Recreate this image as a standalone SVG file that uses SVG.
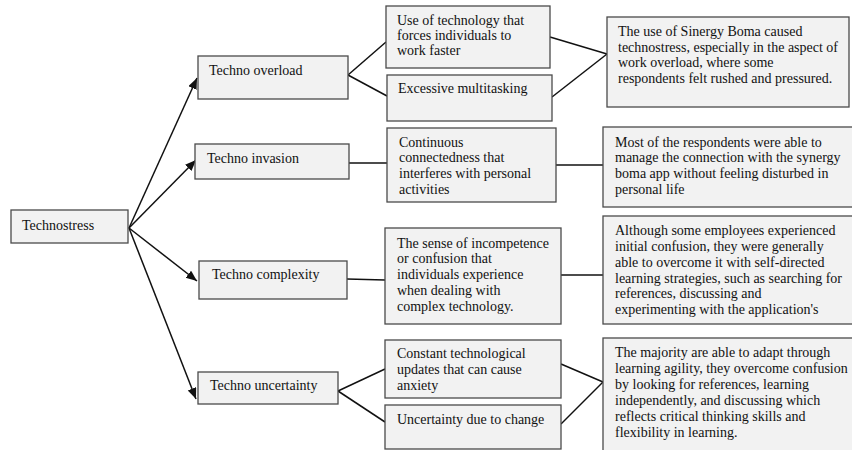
<svg xmlns="http://www.w3.org/2000/svg" width="852" height="450" viewBox="0 0 852 450">
<style>
.box{fill:#f2f2f2;stroke:#4a4a4a;stroke-width:1.3}
.t{font-family:"Liberation Serif","Times New Roman",serif;font-size:14px;fill:#111}
.c{stroke:#111;stroke-width:1.5;fill:none}
</style>
<defs>
<marker id="ah" markerUnits="userSpaceOnUse" markerWidth="12" markerHeight="10" refX="11" refY="4.5" orient="auto">
<path d="M0,0 L11,4.5 L0,9 Z" fill="#111"/>
</marker>
</defs>
<rect width="852" height="450" fill="#fff"/>
<g id="connectors">
<line class="c" x1="129" y1="228" x2="197" y2="78" marker-end="url(#ah)"/>
<line class="c" x1="129" y1="228" x2="196" y2="160" marker-end="url(#ah)"/>
<line class="c" x1="129" y1="228" x2="197" y2="281" marker-end="url(#ah)"/>
<line class="c" x1="129" y1="228" x2="196" y2="399" marker-end="url(#ah)"/>
<line class="c" x1="348" y1="75" x2="386" y2="42"/>
<line class="c" x1="348" y1="75" x2="387" y2="96"/>
<line class="c" x1="550" y1="37" x2="607" y2="54"/>
<line class="c" x1="552" y1="97" x2="607" y2="54"/>
<line class="c" x1="349" y1="163" x2="387" y2="163"/>
<line class="c" x1="556" y1="165" x2="603" y2="165"/>
<line class="c" x1="347" y1="279" x2="385" y2="280"/>
<line class="c" x1="561" y1="275" x2="603" y2="275"/>
<line class="c" x1="338" y1="391" x2="385" y2="369"/>
<line class="c" x1="338" y1="391" x2="385" y2="422"/>
<line class="c" x1="561" y1="364" x2="603" y2="382"/>
<line class="c" x1="561" y1="424" x2="603" y2="382"/>
</g>
<g id="technostress">
<rect class="box" x="11" y="210" width="117" height="33"/>
<text class="t" x="22" y="230">Technostress</text>
</g>
<g id="techno-overload">
<rect class="box" x="198" y="56" width="150" height="43"/>
<text class="t" x="209" y="75">Techno overload</text>
</g>
<g id="techno-invasion">
<rect class="box" x="195" y="144" width="154" height="35"/>
<text class="t" x="207" y="163">Techno invasion</text>
</g>
<g id="techno-complexity">
<rect class="box" x="199" y="261" width="148" height="38"/>
<text class="t" x="212" y="279">Techno complexity</text>
</g>
<g id="techno-uncertainty">
<rect class="box" x="198" y="372" width="140" height="32"/>
<text class="t" x="210" y="390">Techno uncertainty</text>
</g>
<g id="work-faster">
<rect class="box" x="386" y="6" width="164" height="62"/>
<text class="t" x="397" y="25">Use of technology that</text>
<text class="t" x="397" y="40">forces individuals to</text>
<text class="t" x="397" y="55">work faster</text>
</g>
<g id="multitasking">
<rect class="box" x="387" y="75" width="165" height="46"/>
<text class="t" x="398" y="93">Excessive multitasking</text>
</g>
<g id="connectedness">
<rect class="box" x="387" y="128" width="169" height="74"/>
<text class="t" x="399" y="147">Continuous</text>
<text class="t" x="399" y="162">connectedness that</text>
<text class="t" x="399" y="178">interferes with personal</text>
<text class="t" x="399" y="194">activities</text>
</g>
<g id="incompetence">
<rect class="box" x="385" y="228" width="176" height="96"/>
<text class="t" x="397" y="248">The sense of incompetence</text>
<text class="t" x="397" y="263">or confusion that</text>
<text class="t" x="397" y="279">individuals experience</text>
<text class="t" x="397" y="295">when dealing with</text>
<text class="t" x="397" y="311">complex technology.</text>
</g>
<g id="updates">
<rect class="box" x="385" y="340" width="176" height="58"/>
<text class="t" x="397" y="358">Constant technological</text>
<text class="t" x="397" y="374">updates that can cause</text>
<text class="t" x="397" y="390">anxiety</text>
</g>
<g id="change">
<rect class="box" x="385" y="405" width="176" height="44"/>
<text class="t" x="397" y="424">Uncertainty due to change</text>
</g>
<g id="finding-overload">
<rect class="box" x="607" y="17" width="242" height="90"/>
<text class="t" x="618" y="36">The use of Sinergy Boma caused</text>
<text class="t" x="618" y="51.5">technostress, especially in the aspect of</text>
<text class="t" x="618" y="67">work overload, where some</text>
<text class="t" x="618" y="82.5">respondents felt rushed and pressured.</text>
</g>
<g id="finding-invasion">
<rect class="box" x="603" y="127" width="252" height="80"/>
<text class="t" x="615" y="147">Most of the respondents were able to</text>
<text class="t" x="615" y="162">manage the connection with the synergy</text>
<text class="t" x="615" y="178">boma app without feeling disturbed in</text>
<text class="t" x="615" y="194">personal life</text>
</g>
<g id="finding-complexity">
<rect class="box" x="603" y="216" width="252" height="108"/>
<text class="t" x="615" y="235">Although some employees experienced</text>
<text class="t" x="615" y="251">initial confusion, they were generally</text>
<text class="t" x="615" y="267">able to overcome it with self-directed</text>
<text class="t" x="615" y="283">learning strategies, such as searching for</text>
<text class="t" x="615" y="298">references, discussing and</text>
<text class="t" x="615" y="314">experimenting with the application's</text>
</g>
<g id="finding-uncertainty">
<rect class="box" x="603" y="338" width="252" height="116"/>
<text class="t" x="615" y="357">The majority are able to adapt through</text>
<text class="t" x="615" y="373">learning agility, they overcome confusion</text>
<text class="t" x="615" y="389">by looking for references, learning</text>
<text class="t" x="615" y="405">independently, and discussing which</text>
<text class="t" x="615" y="421">reflects critical thinking skills and</text>
<text class="t" x="615" y="437">flexibility in learning.</text>
</g>
</svg>
